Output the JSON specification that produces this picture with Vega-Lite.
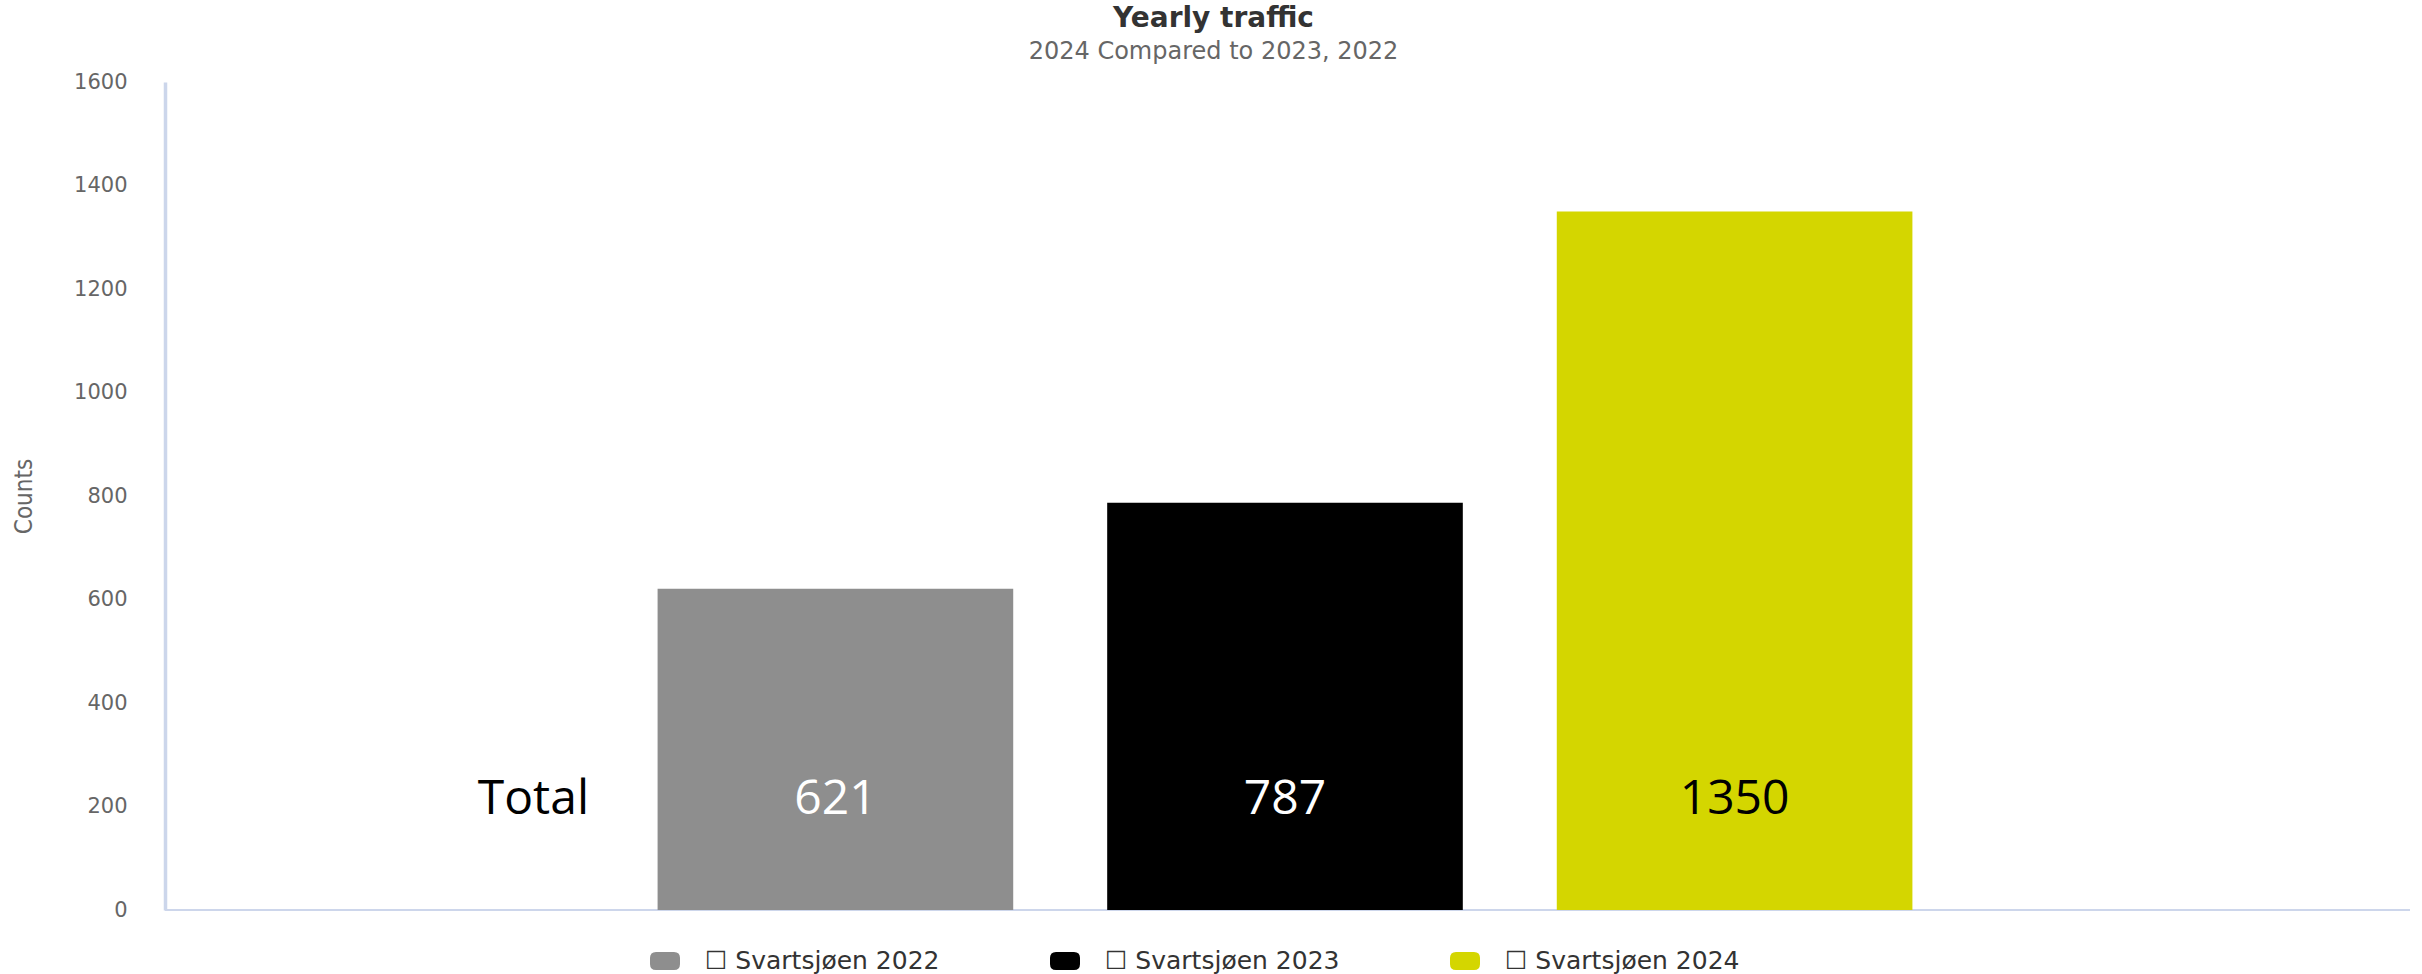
{
  "$schema": "https://vega.github.io/schema/vega-lite/v6.json",
  "width": 2245,
  "height": 828,
  "autosize": {"type": "none"},
  "padding": {"left": 165, "top": 82, "right": 12, "bottom": 64},
  "background": "white",
  "title": {
    "text": "Yearly traffic",
    "subtitle": "2024 Compared to 2023, 2022",
    "anchor": "middle",
    "dx": -74,
    "font": "DejaVu Sans",
    "fontSize": 28,
    "fontWeight": "bold",
    "color": "#333333",
    "subtitleFont": "DejaVu Sans",
    "subtitleFontSize": 24,
    "subtitleColor": "#666666",
    "subtitlePadding": 7,
    "offset": 7
  },
  "config": {
    "view": {"stroke": null},
    "axis": {"grid": false}
  },
  "data": {
    "values": [
      {"series": "Svartsjøen 2022", "year": "2022", "count": 621},
      {"series": "Svartsjøen 2023", "year": "2023", "count": 787},
      {"series": "Svartsjøen 2024", "year": "2024", "count": 1350}
    ]
  },
  "encoding": {
    "x": {
      "field": "series",
      "type": "nominal",
      "scale": {"paddingInner": 0.209, "paddingOuter": 1, "range": [43, 2197]},
      "axis": {
        "title": null,
        "labels": false,
        "ticks": false,
        "domain": false
      }
    }
  },
  "layer": [
    {
      "mark": {"type": "rule", "color": "#ccd6eb", "strokeWidth": 1.5},
      "encoding": {
        "x": {"value": 0},
        "x2": {"value": 2245},
        "y": {"datum": 0, "type": "quantitative"}
      }
    },
    {
      "mark": {"type": "bar"},
      "encoding": {
        "y": {
          "field": "count",
          "type": "quantitative",
          "scale": {"domain": [0, 1600], "nice": false},
          "axis": {
            "title": "Counts",
            "titleFont": "'DejaVu Sans Condensed', 'Liberation Sans Narrow', 'Open Sans'",
            "titleFontSize": 24,
            "titleFontWeight": "normal",
            "titleColor": "#666666",
            "titleAngle": 270,
            "titleAlign": "center",
            "titleBaseline": "middle",
            "titleX": -141,
            "titleY": 414,
            "values": [0, 200, 400, 600, 800, 1000, 1200, 1400, 1600],
            "format": "d",
            "labelFont": "DejaVu Sans",
            "labelFontSize": 21,
            "labelColor": "#666666",
            "labelPadding": 38,
            "ticks": false,
            "domain": true,
            "domainColor": "#ccd6eb",
            "domainWidth": 3.5
          }
        },
        "color": {
          "field": "series",
          "type": "nominal",
          "scale": {
            "domain": ["Svartsjøen 2022", "Svartsjøen 2023", "Svartsjøen 2024"],
            "range": ["#8e8e8e", "#000000", "#d4d600"]
          },
          "legend": {
            "title": null,
            "orient": "none",
            "direction": "horizontal",
            "legendX": 485,
            "legendY": 864,
            "columns": 3,
            "columnPadding": 110,
            "labelOffset": 25,
            "labelLimit": 500,
            "labelExpr": "'☐ ' + datum.label",
            "labelFont": "DejaVu Sans",
            "labelFontSize": 25,
            "labelColor": "#333333",
            "symbolType": "M-0.6,-0.6 L0.6,-0.6 Q1,-0.6 1,-0.2 L1,0.2 Q1,0.6 0.6,0.6 L-0.6,0.6 Q-1,0.6 -1,0.2 L-1,-0.2 Q-1,-0.6 -0.6,-0.6 Z",
            "symbolSize": 900,
            "symbolStrokeWidth": 0,
            "symbolOpacity": 1
          }
        }
      }
    },
    {
      "mark": {"type": "text", "font": "Open Sans", "fontSize": 48, "baseline": "middle", "align": "center"},
      "encoding": {
        "y": {"datum": 212, "type": "quantitative"},
        "text": {"field": "count", "type": "quantitative"},
        "color": {
          "condition": {"test": "datum.year == '2024'", "value": "#000000"},
          "value": "#ffffff"
        }
      }
    },
    {
      "data": {"values": [{"label": "Total"}]},
      "mark": {"type": "text", "font": "Open Sans", "fontSize": 48, "baseline": "middle", "align": "center", "color": "#000000", "dx": -302},
      "encoding": {
        "x": {"datum": "Svartsjøen 2022", "type": "nominal"},
        "y": {"datum": 212, "type": "quantitative"},
        "text": {"field": "label", "type": "nominal"}
      }
    }
  ]
}
